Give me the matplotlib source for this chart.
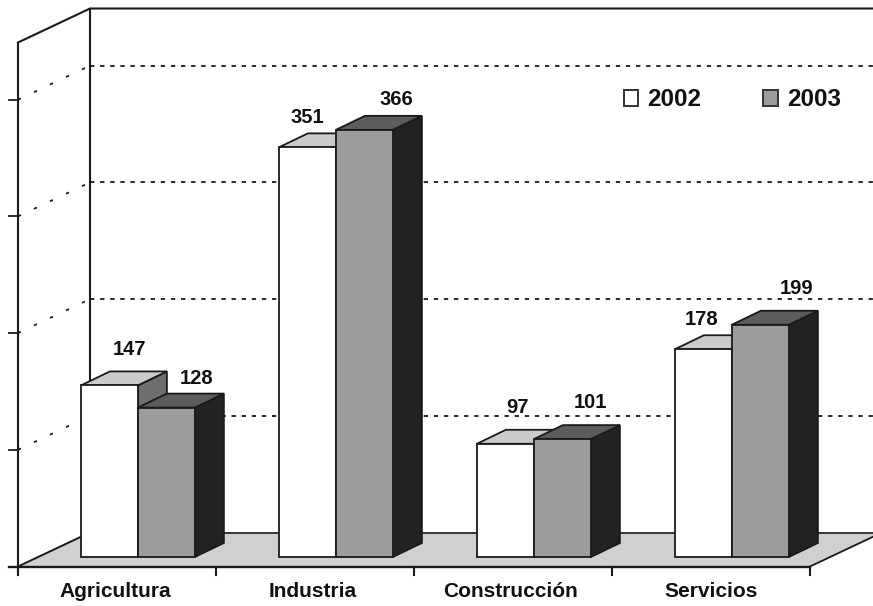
import matplotlib as mpl
import matplotlib.pyplot as plt
from matplotlib.patches import Patch

mpl.rcParams.update({'font.family': ['Liberation Sans', 'DejaVu Sans'],
                     'font.weight': 'bold'})

# data
categories = ['Agricultura', 'Industria', 'Construcción', 'Servicios']
years = ['2002', '2003']
values_2002 = [147, 351, 97, 178]
values_2003 = [128, 366, 101, 199]
grid_values = [100, 200, 300, 400]
y_top = 449

# label nudges from the middle of the bar's front face top, in pixels
nudge_2002 = [(20, 36), (0, 30), (12, 36), (-2, 30)]
nudge_2003 = [(30, 29), (32, 30), (28, 37), (36, 36)]
# category label nudges in pixels
nudge_cat = [-2, -2, -3, 0]

# scale of the picture
W, H = 873, 606
PX_X = 198.0  # pixels per category
PX_Y = 1.167  # pixels per unit
X0, Y0 = 18, 566.5  # pixel position of the front corner of the floor

# depth of the box and of the bars, in data units
BOX_DX = 72 / PX_X
BOX_DY = 34 / PX_Y
BAR_DX = 29 / PX_X
BAR_DY = 14 / PX_Y
BAR_W = 57 / PX_X
BAR_SHIFT_X = 0.29 * BOX_DX
BAR_SHIFT_Y = 0.28 * BOX_DY

LINE = '#1a1a1a'
DASH_BACK = (0, (2.4, 3.2))
DASH_SIDE = (0, (1.8, 8))

fig = plt.figure(figsize=(W / 100, H / 100), dpi=100)
ax = fig.add_axes([0, 0, 1, 1])
ax.set_xlim(-X0 / PX_X, (W - X0) / PX_X)
ax.set_ylim(-(H - Y0) / PX_Y, Y0 / PX_Y)
ax.axis('off')

n = len(categories)
right = ax.get_xlim()[1]


def draw_box(x, y, w, h, front, top, side, z):
    dx, dy = BAR_DX, BAR_DY
    ax.fill([x, x + w, x + w, x], [y, y, y + h, y + h],
            facecolor=front, edgecolor=LINE, lw=1.3, zorder=z + 0.2)
    ax.fill([x, x + w, x + w + dx, x + dx], [y + h, y + h, y + h + dy, y + h + dy],
            facecolor=top, edgecolor=LINE, lw=1.3, zorder=z + 0.1)
    ax.fill([x + w, x + w + dx, x + w + dx, x + w], [y, y + dy, y + h + dy, y + h],
            facecolor=side, edgecolor=LINE, lw=1.3, zorder=z)


# floor
ax.fill([0, n, n + BOX_DX, n + BOX_DX, BOX_DX], [0, 0, BOX_DY, BOX_DY, BOX_DY],
        facecolor='#d0d0d0', edgecolor='none', zorder=1)
ax.plot([BOX_DX, right], [BOX_DY, BOX_DY], color=LINE, lw=1.2, zorder=2)
ax.plot([n, n + BOX_DX], [0, BOX_DY], color=LINE, lw=1.3, zorder=2)
ax.plot([-9 / PX_X, n], [0, 0], color=LINE, lw=1.7, zorder=2)
ax.plot([0, BOX_DX], [0, BOX_DY], color=LINE, lw=1.4, zorder=2)

# walls
ax.plot([0, 0], [-8 / PX_Y, y_top], color=LINE, lw=1.5, zorder=2)
ax.plot([BOX_DX, BOX_DX], [BOX_DY, y_top + BOX_DY], color=LINE, lw=1.5, zorder=2)
ax.plot([0, BOX_DX, right], [y_top, y_top + BOX_DY, y_top + BOX_DY],
        color=LINE, lw=1.5, zorder=2)

# grid and ticks
for g in grid_values:
    ax.plot([BOX_DX, right], [g + BOX_DY, g + BOX_DY], color=LINE, lw=1.3,
            linestyle=DASH_BACK, zorder=2)
    ax.plot([0, BOX_DX], [g, g + BOX_DY], color=LINE, lw=1.3,
            linestyle=DASH_SIDE, zorder=2)
    ax.plot([-9 / PX_X, 0], [g, g], color=LINE, lw=1.3, zorder=2)
for i in range(n + 1):
    ax.plot([i, i], [0, -8 / PX_Y], color=LINE, lw=1.5, zorder=2)

# bars, going from left to right so the later ones cover the earlier ones
for i in range(n):
    centre = i + 0.5 + BAR_SHIFT_X
    draw_box(centre - BAR_W, BAR_SHIFT_Y, BAR_W, values_2002[i],
             'white', '#cbcbcb', '#6e6e6e', 3 + 2 * i)
    draw_box(centre, BAR_SHIFT_Y, BAR_W, values_2003[i],
             '#9c9c9c', '#5c5c5c', '#222222', 4 + 2 * i)
    ax.annotate(str(values_2002[i]), (centre - BAR_W / 2, BAR_SHIFT_Y + values_2002[i]),
                xytext=nudge_2002[i], textcoords='offset pixels',
                ha='center', va='center', fontsize=14.5, color='#111111', zorder=20)
    ax.annotate(str(values_2003[i]), (centre + BAR_W / 2, BAR_SHIFT_Y + values_2003[i]),
                xytext=nudge_2003[i], textcoords='offset pixels',
                ha='center', va='center', fontsize=14.5, color='#111111', zorder=20)
    ax.annotate(categories[i], (i + 0.5, 0), xytext=(nudge_cat[i], -25),
                textcoords='offset pixels', ha='center', va='center',
                fontsize=15, color='#111111')

# legend
handles = [Patch(facecolor='white', edgecolor='#333333', lw=1.4),
           Patch(facecolor='#9c9c9c', edgecolor='#333333', lw=1.4)]
ax.legend(handles, years, ncol=2, frameon=False, loc='center left',
          bbox_to_anchor=(623.5 / W, 1 - 100 / H), borderpad=0, borderaxespad=0,
          fontsize=17.5, handlelength=0.6, handleheight=0.6, handletextpad=0.38,
          columnspacing=2.55, labelcolor='#111111')

fig.savefig('out.png', dpi=100)
